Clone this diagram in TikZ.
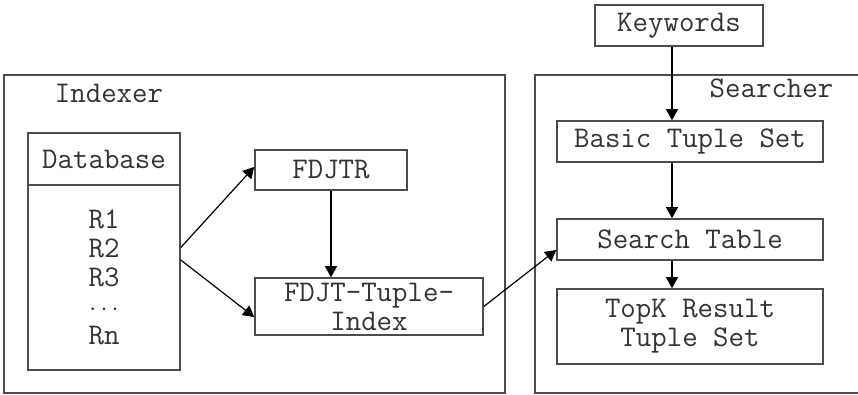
\documentclass[tikz,border=0pt]{standalone}
\usepackage{fontspec}
\usetikzlibrary{arrows.meta}

\begin{document}
\begin{tikzpicture}[
  x=1pt, y=-1pt,
  font=\fontsize{30}{29}\selectfont\ttfamily,
  frame/.style={draw=black!70, line width=1.6pt, inner sep=0pt},
  box/.style={draw=black!70, line width=1.6pt, inner sep=0pt, align=center, text=black!80},
  lbl/.style={text=black!80, inner sep=0pt},
  line/.style={-{Triangle[length=11pt,width=12pt]}, line width=1.2pt}
]
\clip (0,0) rectangle (858,395);
\fill[white] (0,0) rectangle (858,395);

% indexer side
\node[frame, minimum width=501pt, minimum height=318pt] (idx) at (254.5,234) {};
\node[lbl] (idxlbl) at (109,93) {Indexer};
\node[box, minimum width=152pt, minimum height=52pt] (db) at (104,159) {Database};
\node[box, minimum width=152pt, minimum height=185pt] (rows) at (104,277.5)
  {R1\\R2\\R3\\$\cdots$\\Rn};
\node[box, minimum width=152pt, minimum height=40pt] (fdjtr) at (331,170) {FDJTR};
\node[box, minimum width=228pt, minimum height=57pt] (ftidx) at (369,306.5) {FDJT-Tuple-\\Index};

% searcher side
\node[frame, minimum width=340pt, minimum height=318pt] (srch) at (705,234) {};
\node[lbl] (srchlbl) at (771.5,88) {Searcher};
\node[box, minimum width=168pt, minimum height=41pt] (kw) at (679,25.5) {Keywords};
\node[box, minimum width=266pt, minimum height=41pt] (basic) at (690,141.5) {Basic Tuple Set};
\node[box, minimum width=266pt, minimum height=41pt] (stable) at (690,239.5) {Search Table};
\node[box, minimum width=266pt, minimum height=75pt] (topk) at (690,326.5) {TopK Result\\Tuple Set};
\coordinate (col) at (672,0);

\draw[line] ([yshift=30pt]rows.east) -- ([yshift=3pt]fdjtr.west);
\draw[line] ([yshift=17.5pt]rows.east) -- ([yshift=-10.5pt]ftidx.west);
\draw[line] (fdjtr.south) -- (fdjtr.south |- ftidx.north);
\draw[line] (ftidx.east) -- ([yshift=-10.5pt]stable.west);
\draw[line] (kw.south -| col) -- (basic.north -| col);
\draw[line] (basic.south -| col) -- (stable.north -| col);
\draw[line] (stable.south -| col) -- (topk.north -| col);
\end{tikzpicture}
\end{document}
